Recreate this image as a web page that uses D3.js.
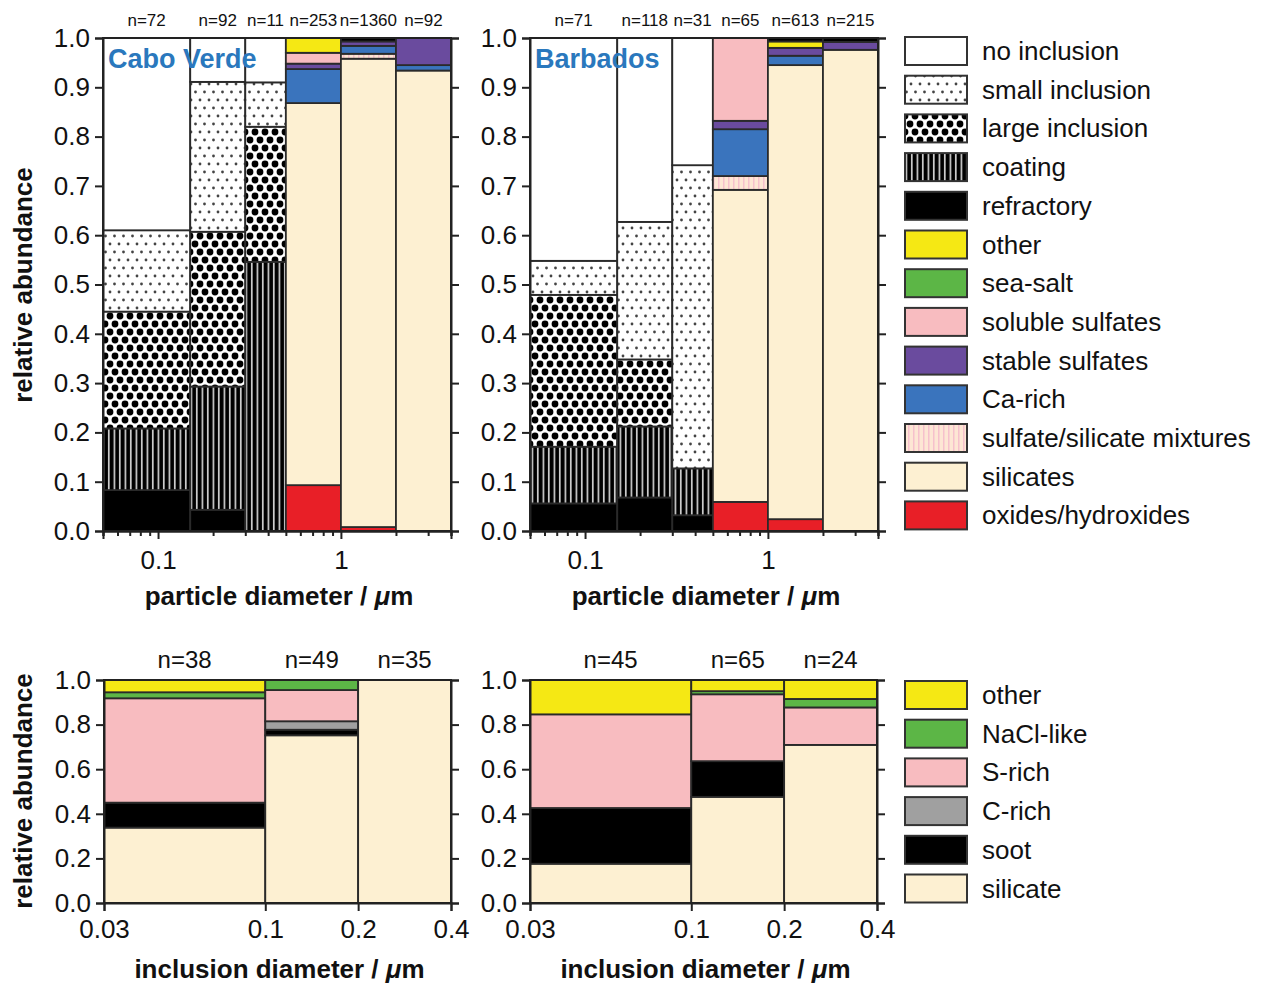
<!DOCTYPE html>
<html>
<head>
<meta charset="utf-8">
<script src="https://cdn.jsdelivr.net/npm/d3@7"></script>
<style>
  body { margin: 0; background: #fff; }
  svg text { font-family: "Liberation Sans", Arial, sans-serif; fill: #111; }
</style>
</head>
<body>
<div id="chart"></div>
<script>
// particle classes, legend order (top of stack first)
var particleClasses = ["no inclusion", "small inclusion", "large inclusion", "coating", "refractory",
  "other", "sea-salt", "soluble sulfates", "stable sulfates", "Ca-rich",
  "sulfate/silicate mixtures", "silicates", "oxides/hydroxides"];
var particleFill = ["#ffffff", "url(#pSmall)", "url(#pLarge)", "url(#pCoat)", "#000000",
  "#f5e814", "#5cb646", "#f8bcc0", "#6a4b9e", "#3a74bd",
  "url(#pMix)", "#fdf0d2", "#e81f27"];

// size bins of the particle diameter (µm)
var particleBins = [0.05, 0.15, 0.3, 0.5, 1, 2, 4];
var caboVerdeN = [72, 92, 11, 253, 1360, 92];
var barbadosN = [71, 118, 31, 65, 613, 215];

// fractions per bin, one row per class (same order as particleClasses)
var caboVerdeParticles = [
  [0.390, 0.089, 0.090, 0, 0, 0],        // no inclusion
  [0.165, 0.304, 0.090, 0, 0, 0],        // small inclusion
  [0.237, 0.314, 0.274, 0, 0, 0],        // large inclusion
  [0.125, 0.250, 0.546, 0, 0, 0],        // coating
  [0.083, 0.043, 0, 0, 0.007, 0],        // refractory
  [0, 0, 0, 0.030, 0, 0],                // other
  [0, 0, 0, 0, 0, 0],                    // sea-salt
  [0, 0, 0, 0.022, 0, 0],                // soluble sulfates
  [0, 0, 0, 0.011, 0.009, 0.055],        // stable sulfates
  [0, 0, 0, 0.069, 0.016, 0.011],        // Ca-rich
  [0, 0, 0, 0, 0.010, 0],                // sulfate/silicate mixtures
  [0, 0, 0, 0.775, 0.950, 0.934],        // silicates
  [0, 0, 0, 0.093, 0.008, 0]             // oxides/hydroxides
];
var barbadosParticles = [
  [0.452, 0.373, 0.258, 0, 0, 0],
  [0.069, 0.279, 0.615, 0, 0, 0],
  [0.308, 0.136, 0, 0, 0, 0],
  [0.115, 0.144, 0.095, 0, 0, 0],
  [0.056, 0.068, 0.032, 0, 0.007, 0.008],
  [0, 0, 0, 0, 0.013, 0],
  [0, 0, 0, 0, 0, 0],
  [0, 0, 0, 0.168, 0, 0],
  [0, 0, 0, 0.017, 0.016, 0.016],
  [0, 0, 0, 0.095, 0.019, 0],
  [0, 0, 0, 0.028, 0, 0],
  [0, 0, 0, 0.633, 0.921, 0.976],
  [0, 0, 0, 0.059, 0.024, 0]
];

// inclusion classes
var inclusionClasses = ["other", "NaCl-like", "S-rich", "C-rich", "soot", "silicate"];
var inclusionFill = ["#f5e814", "#5cb646", "#f8bcc0", "#a0a0a0", "#000000", "#fdf0d2"];
var inclusionBins = [0.03, 0.1, 0.2, 0.4];
var caboVerdeInclN = [38, 49, 35];
var barbadosInclN = [45, 65, 24];
var caboVerdeInclusions = [
  [0.055, 0, 0],        // other
  [0.027, 0.045, 0],    // NaCl-like
  [0.468, 0.140, 0],    // S-rich
  [0, 0.038, 0],        // C-rich
  [0.112, 0.025, 0],    // soot
  [0.338, 0.752, 1.0]   // silicate
];
var barbadosInclusions = [
  [0.154, 0.050, 0.085],
  [0, 0.014, 0.038],
  [0.420, 0.300, 0.168],
  [0, 0, 0],
  [0.250, 0.160, 0],
  [0.176, 0.476, 0.709]
];

var svg = d3.select("#chart").append("svg")
  .attr("width", 1273).attr("height", 986);

// hatch patterns
var defs = svg.append("defs");
var p = defs.append("pattern").attr("id", "pSmall").attr("patternUnits", "userSpaceOnUse")
  .attr("width", 9).attr("height", 16);
p.append("rect").attr("width", 9).attr("height", 16).attr("fill", "#fff");
p.append("circle").attr("cx", 2).attr("cy", 4).attr("r", 1.4).attr("fill", "#444");
p.append("circle").attr("cx", 6.5).attr("cy", 12).attr("r", 1.4).attr("fill", "#444");

p = defs.append("pattern").attr("id", "pLarge").attr("patternUnits", "userSpaceOnUse")
  .attr("width", 10).attr("height", 16);
p.append("rect").attr("width", 10).attr("height", 16).attr("fill", "#fff");
[[5, 4], [0, 12], [10, 12]].forEach(function(c) {
  p.append("circle").attr("cx", c[0]).attr("cy", c[1]).attr("r", 3.4).attr("fill", "#000");
});

p = defs.append("pattern").attr("id", "pCoat").attr("patternUnits", "userSpaceOnUse")
  .attr("width", 5.5).attr("height", 6);
p.append("rect").attr("width", 5.5).attr("height", 6).attr("fill", "#000");
p.append("rect").attr("x", 3.6).attr("width", 1.5).attr("height", 6).attr("fill", "#e8e8e8");

p = defs.append("pattern").attr("id", "pMix").attr("patternUnits", "userSpaceOnUse")
  .attr("width", 5).attr("height", 6);
p.append("rect").attr("width", 5).attr("height", 6).attr("fill", "#fde6d4");
p.append("rect").attr("x", 3).attr("width", 1.5).attr("height", 6).attr("fill", "#f6c0cc");

function mu(sel, label) {
  sel.text(label + " / ");
  sel.append("tspan").style("font-style", "italic").text("\u03bc");
  sel.append("tspan").text("m");
}

function drawPanel(opt) {
  var x = d3.scaleLog().domain([opt.bins[0], opt.bins[opt.bins.length - 1]]).range(opt.xr);
  var y = d3.scaleLinear().domain([0, 1]).range(opt.yr);
  var g = svg.append("g");

  // stacked bars, bottom class is the last row
  var nb = opt.bins.length - 1;
  for (var b = 0; b < nb; b++) {
    var base = 0;
    for (var k = opt.data.length - 1; k >= 0; k--) {
      var v = opt.data[k][b];
      if (v <= 0) continue;
      g.append("rect")
        .attr("x", x(opt.bins[b]))
        .attr("width", x(opt.bins[b + 1]) - x(opt.bins[b]))
        .attr("y", y(base + v))
        .attr("height", y(base) - y(base + v))
        .attr("fill", opt.fills[k])
        .attr("stroke", "#2a2a2a").attr("stroke-width", 1.8);
      base += v;
    }
    g.append("text")
      .attr("x", x(Math.sqrt(opt.bins[b] * opt.bins[b + 1])))
      .attr("y", opt.nY)
      .attr("text-anchor", "middle")
      .style("font-size", opt.nSize + "px")
      .text("n=" + opt.n[b]);
  }

  // frame
  g.append("rect")
    .attr("x", opt.xr[0]).attr("y", opt.yr[1])
    .attr("width", opt.xr[1] - opt.xr[0]).attr("height", opt.yr[0] - opt.yr[1])
    .attr("fill", "none").attr("stroke", "#222").attr("stroke-width", 2);

  var yl = g.append("g").attr("transform", "translate(" + opt.xr[0] + ",0)")
    .call(d3.axisLeft(y).tickValues(opt.yTicks).tickFormat(d3.format(".1f")).tickSize(8).tickPadding(5));
  var yr = g.append("g").attr("transform", "translate(" + opt.xr[1] + ",0)")
    .call(d3.axisRight(y).tickValues(opt.yTicks).tickFormat("").tickSize(8));

  var xb = opt.yr[0];
  var xmin = null;
  if (opt.minor) {
    xmin = g.append("g").attr("transform", "translate(0," + xb + ")")
      .call(d3.axisBottom(x).tickValues(opt.minor).tickFormat("").tickSize(5));
  }
  var xa = g.append("g").attr("transform", "translate(0," + xb + ")")
    .call(d3.axisBottom(x).tickValues(opt.major).tickFormat(function(d) { return String(d); })
      .tickSize(8).tickPadding(opt.xPad));

  [yl, yr, xa, xmin].forEach(function(a) {
    if (!a) return;
    a.select(".domain").attr("stroke", "#222").attr("stroke-width", 2);
    a.selectAll(".tick line").attr("stroke", "#222").attr("stroke-width", 2);
    a.selectAll(".tick text").style("font-size", "26px").style("font-family", "Liberation Sans, Arial, sans-serif").attr("fill", "#111");
  });

  g.append("text")
    .attr("x", (opt.xr[0] + opt.xr[1]) / 2 + 2)
    .attr("y", opt.titleY)
    .attr("text-anchor", "middle")
    .style("font-size", "26px").style("font-weight", "bold")
    .call(mu, opt.xTitle);

  if (opt.site) {
    g.append("text")
      .attr("x", opt.xr[0] + 5).attr("y", opt.yr[1] + 30)
      .style("font-size", "27px").style("font-weight", "bold")
      .style("fill", "#2a78bd")
      .text(opt.site);
  }
  if (opt.yTitle) {
    g.append("text")
      .attr("transform", "translate(32," + opt.yTitleY + ") rotate(-90)")
      .attr("text-anchor", "middle")
      .style("font-size", "26px").style("font-weight", "bold")
      .text("relative abundance");
  }
}

var topTicks = d3.range(0, 11).map(function(i) { return i / 10; });
var topMinor = [0.05, 0.06, 0.07, 0.08, 0.09, 0.2, 0.3, 0.4, 0.5, 0.6, 0.7, 0.8, 0.9, 2, 3, 4];
var topMajor = [0.1, 1];
var bottomTicks = [0, 0.2, 0.4, 0.6, 0.8, 1.0];

var topOpt = { bins: particleBins, yr: [531, 38], yTicks: topTicks, minor: topMinor, major: topMajor,
  xPad: 12, titleY: 605, xTitle: "particle diameter", nY: 26, nSize: 17, fills: particleFill, yTitleY: 285 };

drawPanel(Object.assign({}, topOpt, { xr: [103, 451], data: caboVerdeParticles, n: caboVerdeN,
  site: "Cabo Verde", yTitle: true }));
drawPanel(Object.assign({}, topOpt, { xr: [530, 878], data: barbadosParticles, n: barbadosN,
  site: "Barbados" }));

var botOpt = { bins: inclusionBins, yr: [903, 680], yTicks: bottomTicks, minor: null, major: inclusionBins,
  xPad: 9, titleY: 978, xTitle: "inclusion diameter", nY: 668, nSize: 24, fills: inclusionFill, yTitleY: 791 };

drawPanel(Object.assign({}, botOpt, { xr: [104, 451], data: caboVerdeInclusions, n: caboVerdeInclN, yTitle: true }));
drawPanel(Object.assign({}, botOpt, { xr: [530, 877], data: barbadosInclusions, n: barbadosInclN }));

// legends
function legend(names, fills, top) {
  var lg = svg.append("g");
  names.forEach(function(name, i) {
    var cy = top + i * 38.7;
    lg.append("rect").attr("x", 905).attr("y", cy - 14).attr("width", 62).attr("height", 28)
      .attr("fill", fills[i]).attr("stroke", "#333").attr("stroke-width", 2);
    lg.append("text").attr("x", 982).attr("y", cy + 9)
      .style("font-size", "26px").text(name);
  });
}
legend(particleClasses, particleFill, 51);
legend(inclusionClasses, inclusionFill, 695);
</script>
</body>
</html>
